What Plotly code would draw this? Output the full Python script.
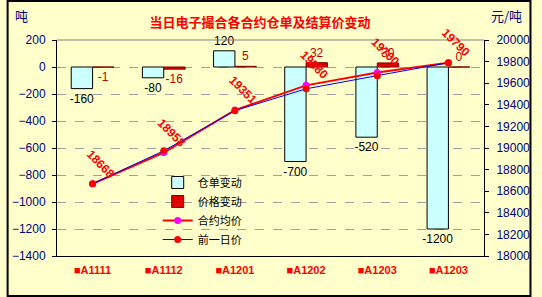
import plotly.graph_objects as go

categories = ["■A1111", "■A1112", "■A1201", "■A1202", "■A1203", "■A1203"]
warrant_change = [-160, -80, 120, -700, -520, -1200]      # 仓单变动 (吨)
price_change = [-1, -16, 5, 32, 30, 0]                     # 价格变动
avg_price = [18668, 18958, 19351, 19580, 19700, 19790]     # 合约均价
prev_price = [18669, 18974, 19346, 19548, 19670, 19790]    # 前一日价

W, H = 542, 297
L, R, T, B = 52, 49, 40, 41
PW, PH = W - L - R, H - T - B
BG = "#FFFFCC"
NAVY = "#000080"
FONT = "Liberation Sans, Arial, sans-serif"
CJK = "Noto Sans CJK SC, sans-serif"

xs = list(range(len(categories)))

fig = go.Figure()
fig.add_trace(go.Bar(
    x=xs, y=warrant_change, name="仓单变动",
    marker=dict(color="#CCFFFF", line=dict(color="black", width=1)),
    text=[str(v) for v in warrant_change], textposition="outside",
    textfont=dict(color="black", size=12, family=FONT),
    cliponaxis=False, constraintext="none", hoverinfo="skip",
))
fig.add_trace(go.Bar(
    x=xs, y=price_change, name="价格变动",
    marker=dict(color="#E00000", line=dict(color="#800000", width=1)),
    text=[str(v) for v in price_change], textposition="outside",
    textfont=dict(color="#C00000", size=12, family=FONT),
    cliponaxis=False, constraintext="none", hoverinfo="skip",
))
fig.add_trace(go.Scatter(
    x=xs, y=avg_price, name="合约均价", yaxis="y2", mode="lines+markers",
    line=dict(color="#FF0000", width=2),
    marker=dict(color="#FF00FF", size=7),
    hoverinfo="skip", cliponaxis=False,
))
fig.add_trace(go.Scatter(
    x=xs, y=prev_price, name="前一日价", yaxis="y2", mode="lines+markers",
    line=dict(color="#0000FF", width=1),
    marker=dict(color="#FF0000", size=7),
    hoverinfo="skip", cliponaxis=False,
))

annotations = []
for i, p in enumerate(avg_price):
    annotations.append(dict(
        x=i, y=p, xref="x", yref="y2", text="<b>" + str(p) + "</b>", showarrow=False,
        textangle=45, xshift=8, yshift=20, xanchor="center", yanchor="middle",
        font=dict(color="#FF0000", size=12, family=FONT),
    ))
annotations.append(dict(x=(15 - L) / PW, y=(H - B - 16) / PH, xref="paper", yref="paper",
                        xanchor="center", yanchor="middle",
                        text="吨", showarrow=False, font=dict(color=NAVY, size=13, family=CJK)))
annotations.append(dict(x=(516 - L) / PW, y=(H - B - 16) / PH, xref="paper", yref="paper",
                        xanchor="center", yanchor="middle",
                        text="元/吨", showarrow=False, font=dict(color=NAVY, size=13, family=CJK)))

ymin, ymax = -1400, 200
shapes = [
    dict(type="line", xref="paper", yref="paper", x0=0, x1=1, y0=1, y1=1,
         line=dict(color="#808080", width=1)),
    dict(type="rect", xref="paper", yref="paper",
         x0=(1 - L) / PW, x1=1 + (R - 1) / PW, y0=(1 - B) / PH, y1=1 + (T - 1) / PH,
         line=dict(color="black", width=2)),
]

fig.update_layout(
    width=W, height=H, margin=dict(l=L, r=R, t=T, b=B),
    paper_bgcolor=BG, plot_bgcolor=BG,
    barmode="group", bargap=0.4, bargroupgap=0,
    showlegend=True,
    legend=dict(x=(156 - L) / PW, y=(H - B - 168) / PH, xanchor="left", yanchor="top",
                bgcolor="rgba(0,0,0,0)", font=dict(size=11, family=CJK, color="black"),
                itemwidth=30, tracegroupgap=0),
    title=dict(text="<b>当日电子撮合各合约仓单及结算价变动</b>", xref="container", yref="container",
               x=260 / W, y=1 - 22 / H, xanchor="center", yanchor="middle",
               font=dict(color="#FF0000", size=13, family=CJK)),
    xaxis=dict(range=[-0.5, len(categories) - 0.5], tickvals=xs, ticktext=categories,
               tickfont=dict(color="#FF0000", size=11, family=FONT, weight="bold"),
               showline=True, linecolor="black", linewidth=1, ticks="", showgrid=False,
               zeroline=False, ticklabelstandoff=4),
    xaxis2=dict(overlaying="x", anchor="free", position=(0 - ymin) / (ymax - ymin),
                range=[-0.5, len(categories) - 0.5],
                tickvals=[i + 0.5 for i in xs[:-1]], ticks="inside", ticklen=4,
                tickcolor="black", showticklabels=False, showline=True, linecolor="black",
                linewidth=1, showgrid=False, zeroline=False),
    yaxis=dict(range=[ymin, ymax], dtick=200, tick0=0, ticks="outside", ticklen=4,
               tickcolor="black", showline=True, linecolor="black", linewidth=1,
               tickfont=dict(color=NAVY, size=12, family=FONT),
               gridcolor="#A0A0A0", griddash="dash", gridwidth=1, zeroline=False,
               ticklabelstandoff=4),
    yaxis2=dict(overlaying="y", side="right", range=[18000, 20000], dtick=200,
                tickformat="d",
                ticks="outside", ticklen=4, tickcolor="black", showline=True,
                linecolor="black", linewidth=1, showgrid=False, zeroline=False,
                tickfont=dict(color=NAVY, size=12, family=FONT), ticklabelstandoff=5),
    annotations=annotations, shapes=shapes,
)

fig.write_html("out.html")
